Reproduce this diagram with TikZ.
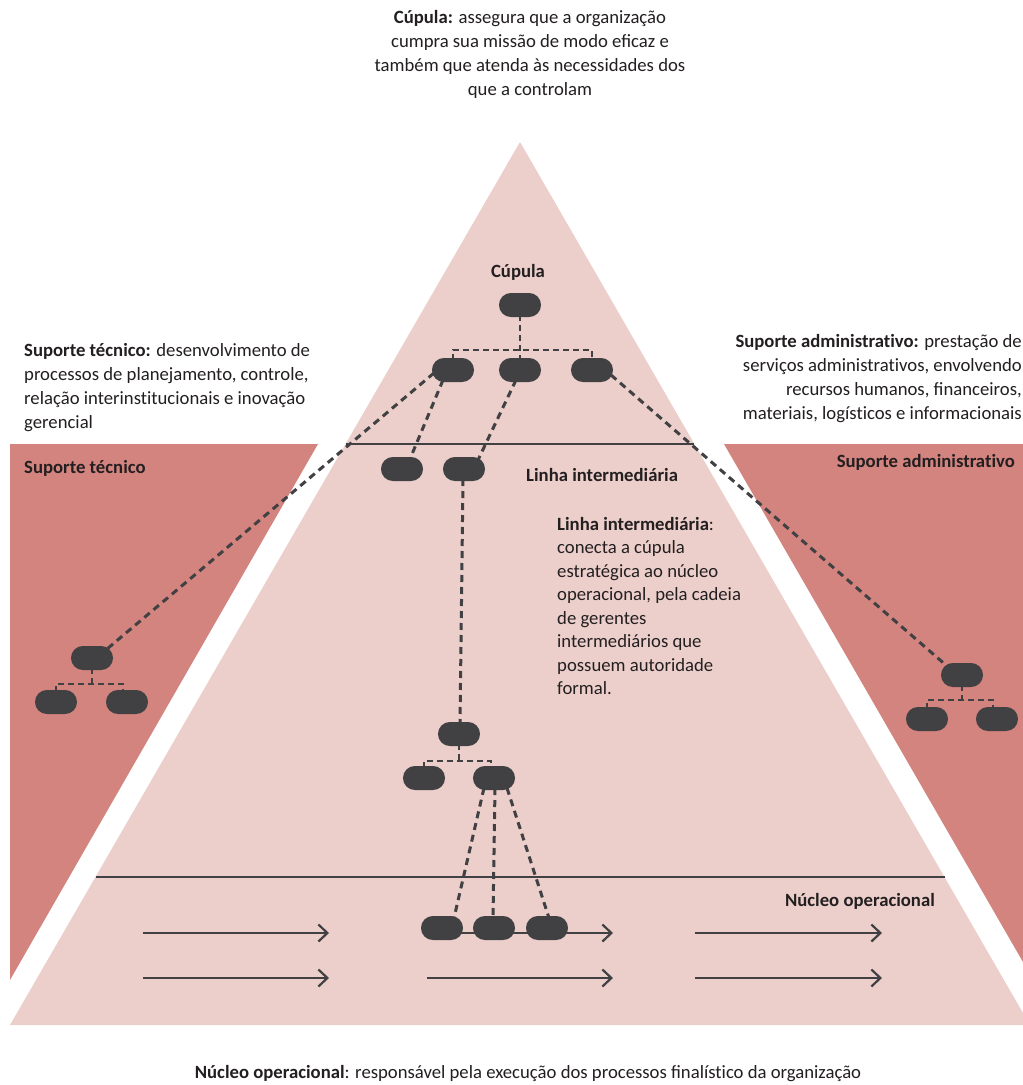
\documentclass[tikz,border=0pt]{standalone}
\usepackage{fontspec}
\setmainfont{Carlito}
\usetikzlibrary{arrows.meta,calc}
\definecolor{pale}{HTML}{ECCFCB}
\definecolor{rose}{HTML}{D4847F}
\definecolor{ink}{HTML}{414042}
\definecolor{txtcol}{HTML}{231F20}
\pgfdeclarelayer{bg}
\pgfdeclarelayer{lines}
\pgfsetlayers{bg,lines,main}
% keep "t" and "i" as separate glyphs
\newcommand\tsep{t\kern0pt i}

\begin{document}
\begin{tikzpicture}[x=1pt,y=-1pt,
  unit/.style={fill=ink, rounded corners=11.9pt, minimum width=42pt, minimum height=24pt, inner sep=0pt},
  link/.style={draw=ink, line width=3pt, dash pattern=on 7pt off 5pt},
  tie/.style={draw=ink, line width=2.6pt, dash pattern=on 6pt off 4pt},
  rulefine/.style={draw=ink, line width=2.2pt},
  flow/.style={draw=ink, line width=2.2pt, -{Straight Barb[length=9pt,width=17pt]}},
  txt/.style={font=\fontsize{18.7}{24}\selectfont, inner sep=0pt, text=txtcol},
  hd/.style={font=\fontsize{18.7}{24}\selectfont\bfseries, inner sep=0pt, text=txtcol}
]
\useasboundingbox (0,0) rectangle (1023,1085);

% background areas
\begin{pgfonlayer}{bg}
  \fill[white] (0,0) rectangle (1023,1085);
  \fill[pale] (520,142) -- (10,1025) -- (1023,1025) -- (1023,1013) -- cycle;
  \fill[rose] (10,444) -- (318,444) -- (10,980) -- cycle;
  \fill[rose] (724,444) -- (1023,444) -- (1023,962) -- cycle;
\end{pgfonlayer}

% level boundaries
\draw[rulefine] (345.6,444) -- (694.4,444);
\draw[rulefine] (95.5,877) -- (944.5,877);

% operating flows
\draw[flow] (143,933) -- (329,933);
\draw[flow] (427,933) -- (613,933);
\draw[flow] (695,933) -- (882,933);
\draw[flow] (143,978) -- (329,978);
\draw[flow] (427,978) -- (613,978);
\draw[flow] (695,978) -- (882,978);

% units
\node[unit] (cup) at (520,305) {};
\node[unit] (m1) at (453,370) {};
\node[unit] (m2) at (520,370) {};
\node[unit] (m3) at (592,370) {};
\node[unit] (l1) at (402,469) {};
\node[unit] (l2) at (464,469) {};
\node[unit] (t0) at (92,658) {};
\node[unit] (t1) at (56,702) {};
\node[unit] (t2) at (127,702) {};
\node[unit] (a0) at (962,675) {};
\node[unit] (a1) at (927,719) {};
\node[unit] (a2) at (997,719) {};
\node[unit] (k0) at (459,734) {};
\node[unit] (k1) at (424,778) {};
\node[unit] (k2) at (494,778) {};
\node[unit] (n1) at (442,928) {};
\node[unit] (n2) at (494,928) {};
\node[unit] (n3) at (547,928) {};

% hierarchy links
\begin{pgfonlayer}{lines}
  \coordinate (cb) at (520,350);
  \draw[tie] (m1.center) |- (cb) -| (m3.center);
  \draw[tie] (cup.center) -- (m2.center);
  \coordinate (tb) at (92,684);
  \draw[tie] (t1.center) |- (tb) -| ($(t2.center)+(-4,0)$);
  \draw[tie] (t0.center) -- (tb);
  \coordinate (ab) at (962,700);
  \draw[tie] (a1.center) |- (ab) -| ($(a2.center)+(-4,0)$);
  \draw[tie] (a0.center) -- (ab);
  \coordinate (kb) at (459,761);
  \draw[tie] (k1.center) |- (kb) -| ($(k2.center)+(-3,0)$);
  \draw[tie] (k0.center) -- (kb);

  \draw[link] ($(m1)+(-19,3)$) -- ($(t0)+(15,-9)$);
  \draw[link] ($(m3)+(19,5)$) -- ($(a0)+(-15,-9)$);
  \draw[link] ($(m1)+(-10,10)$) -- ($(l1)+(8,-10)$);
  \draw[link] ($(m2)+(-4,10)$) -- ($(l2)+(14,-9)$);
  \draw[link] ($(l2)+(-1,10)$) -- ($(k0)+(1,-10)$);
  \draw[link] ($(k2)+(-10,10)$) -- ($(n1)+(12,-10)$);
  \draw[link] ($(k2)+(1,10)$) -- ($(n2)+(-1,-10)$);
  \draw[link] ($(k2)+(13,10)$) -- ($(n3)+(2,-10)$);
\end{pgfonlayer}

% level names
\node[hd, anchor=base] (cuplbl) at (518,277) {Cúpula};
\node[hd, anchor=base west] (tecnlbl) at (24,473) {Suporte técnico};
\node[hd, anchor=base east] (admlbl) at (1015,467) {Suporte administra\tsep vo};
\node[hd, anchor=base west] (linlbl) at (526,481) {Linha intermediária};
\node[hd, anchor=base east] (nuclbl) at (935,906) {Núcleo operacional};

% descriptions
\node[txt, align=center, anchor=north] (cupnote) at (530,6)
  {\rule{0pt}{17pt}\textbf{Cúpula:} assegura que a organização\\
   cumpra sua missão de modo eficaz e\\
   também que atenda às necessidades dos\\
   que a controlam};
\node[txt, align=left, anchor=north west] (tecnote) at (24,339)
  {\rule{0pt}{17pt}\textbf{Suporte técnico:} desenvolvimento de\\
   processos de planejamento, controle,\\
   relação interins\tsep tucionais e inovação\\
   gerencial};
\node[txt, align=right, anchor=north east] (admnote) at (1022,330)
  {\rule{0pt}{17pt}\textbf{Suporte administra\tsep vo:} prestação de\\
   serviços administra\tsep vos, envolvendo\\
   recursos humanos, financeiros,\\
   materiais, logís\tsep cos e informacionais};
\node[font=\fontsize{18.7}{23.5}\selectfont, inner sep=0pt, text=txtcol, align=left, anchor=north west] (linnote) at (557,513)
  {\rule{0pt}{17pt}\textbf{Linha intermediária}:\\
   conecta a cúpula\\
   estratégica ao núcleo\\
   operacional, pela cadeia\\
   de gerentes\\
   intermediários que\\
   possuem autoridade\\
   formal.};
\node[txt, anchor=base] (nucnote) at (528,1078)
  {\textbf{Núcleo operacional}: responsável pela execução dos processos finalís\tsep co da organização};
\end{tikzpicture}
\end{document}
